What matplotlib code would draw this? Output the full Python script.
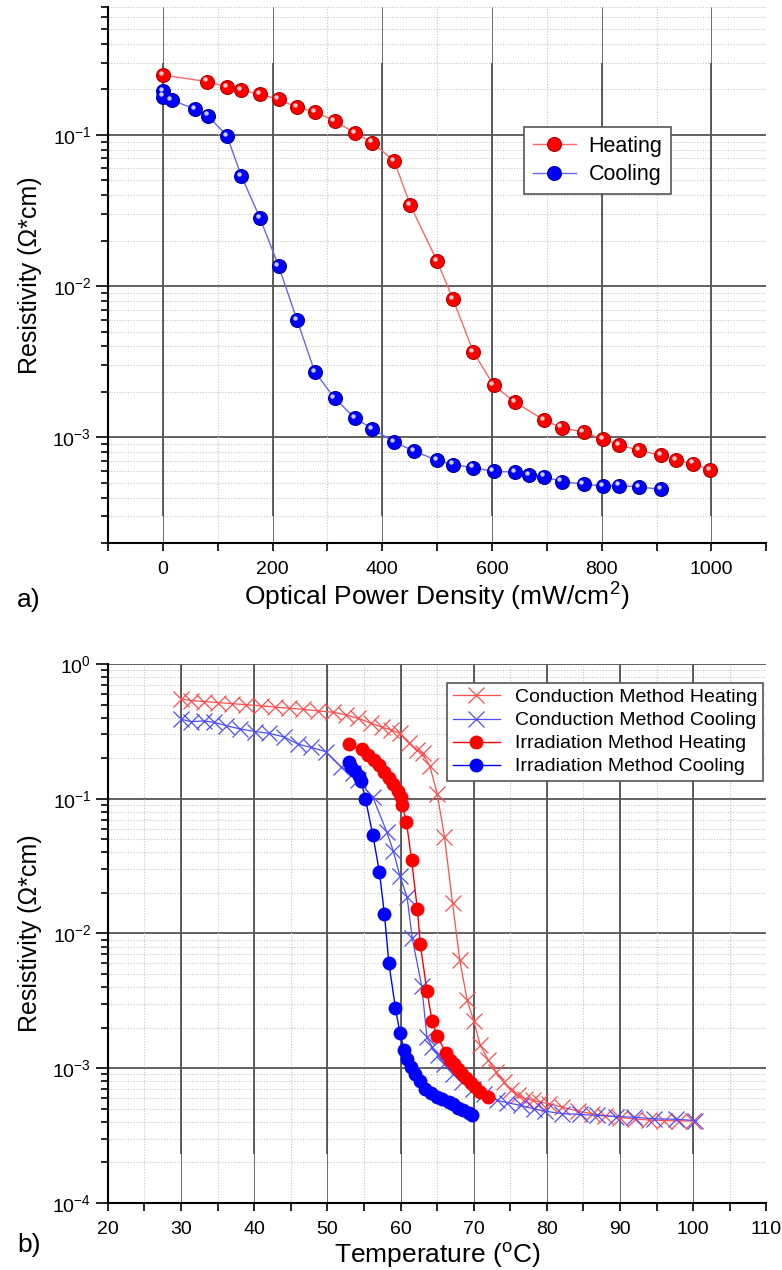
import numpy as np
import matplotlib.pyplot as plt
from matplotlib.ticker import LogLocator, FixedLocator, FuncFormatter, NullFormatter
from matplotlib.transforms import offset_copy

plt.rcParams['font.family'] = ['Liberation Sans', 'DejaVu Sans']
plt.rcParams['mathtext.fontset'] = 'custom'
plt.rcParams['mathtext.rm'] = 'Liberation Sans'
plt.rcParams['mathtext.it'] = 'Liberation Sans:italic'
plt.rcParams['mathtext.bf'] = 'Liberation Sans:bold'

# a) resistivity vs optical power density
power_heat = [0, 81, 117, 143, 177, 211, 245, 277, 313, 350, 382, 422, 451, 500,
              529, 566, 603, 642, 695, 727, 767, 803, 832, 868, 908, 936, 966, 997]
rho_heat = [0.249, 0.225, 0.208, 0.198, 0.186, 0.172, 0.152, 0.142, 0.124, 0.103,
            0.089, 0.067, 0.0344, 0.0146, 0.0082, 0.00367, 0.00221, 0.00171, 0.0013,
            0.00116, 0.00108, 0.00097, 0.00089, 0.00082, 0.00076, 0.000705, 0.00067, 0.00061]
power_cool = [0, 0, 16, 59, 82, 117, 143, 177, 211, 245, 277, 313, 350, 382, 422,
              458, 500, 529, 566, 603, 642, 667, 695, 727, 767, 803, 832, 868, 908]
rho_cool = [0.194, 0.179, 0.170, 0.148, 0.134, 0.0985, 0.0537, 0.0283, 0.0136, 0.00593,
            0.00271, 0.00182, 0.00134, 0.00114, 0.00093, 0.00081, 0.000705, 0.00066,
            0.00063, 0.000595, 0.00059, 0.00056, 0.00055, 0.00051, 0.00049, 0.000476,
            0.00048, 0.00047, 0.000453]

# b) resistivity vs temperature
cond_heat_T = [30, 31.4, 33.1, 35.0, 37.0, 38.9, 40.9, 42.8, 44.7, 46.6, 48.7, 50.8,
               52.5, 54.2, 56.0, 57.5, 58.7, 59.9, 61.2, 62.3, 63.0, 64.0, 65.0, 66.0,
               67.1, 68.1, 69.1, 70.0, 70.9, 72.0, 73.0, 74.1, 75.1, 76.1, 77.0, 78.1,
               79.1, 80.3, 82.1, 84.2, 86.1, 88.0, 90.0, 92.0, 94.0, 96.0, 98.0, 100.0]
cond_heat_rho = [0.55, 0.535, 0.526, 0.517, 0.508, 0.498, 0.489, 0.478, 0.47, 0.461,
                 0.448, 0.438, 0.419, 0.395, 0.363, 0.339, 0.324, 0.306, 0.257, 0.229,
                 0.217, 0.175, 0.109, 0.0524, 0.0169, 0.0063, 0.00321, 0.00225, 0.00148,
                 0.00115, 0.00094, 0.00079, 0.000685, 0.00063, 0.000594, 0.000577,
                 0.00056, 0.000545, 0.000514, 0.00048, 0.00046, 0.000445, 0.00043,
                 0.00042, 0.000412, 0.000409, 0.000407, 0.000405]
cond_cool_T = [30, 31.4, 33.1, 34.5, 36.2, 38.1, 40.1, 42.0, 44.0, 46.0, 47.8, 49.8,
               51.9, 53.5, 54.2, 56.2, 58.1, 59.0, 59.9, 60.9, 61.6, 62.9, 63.6, 64.3,
               65.1, 66.0, 67.1, 68.4, 69.9, 71.4, 73.2, 74.6, 76.4, 78.2, 79.7, 82.1,
               84.5, 86.9, 89.5, 91.9, 94.6, 97.6, 100.3]
cond_cool_rho = [0.389, 0.373, 0.378, 0.369, 0.348, 0.329, 0.315, 0.306, 0.288, 0.254,
                 0.24, 0.223, 0.172, 0.154, 0.137, 0.103, 0.057, 0.041, 0.0268, 0.0185,
                 0.0092, 0.00405, 0.00171, 0.00144, 0.00125, 0.00108, 0.00091, 0.00079,
                 0.000705, 0.000647, 0.000577, 0.000554, 0.00053, 0.0005, 0.00048,
                 0.00046, 0.000454, 0.000446, 0.000438, 0.000433, 0.000421, 0.000418,
                 0.000409]
irr_heat_T = [52.9, 54.7, 55.6, 56.4, 57.1, 57.8, 58.4, 59.0, 59.6, 60.0, 60.2, 60.8,
              61.5, 62.3, 62.7, 63.6, 64.3, 65.0, 66.2, 66.8, 67.3, 67.9, 68.4, 69.0,
              69.6, 70.2, 70.9, 71.9]
irr_heat_rho = [0.253, 0.232, 0.21, 0.193, 0.177, 0.158, 0.143, 0.129, 0.1135, 0.103,
                0.0902, 0.0677, 0.0352, 0.0151, 0.00828, 0.00377, 0.00225, 0.00173,
                0.0013, 0.00116, 0.00108, 0.00098, 0.00091, 0.00085, 0.00078, 0.000726,
                0.000666, 0.00061]
irr_cool_T = [52.9, 53.2, 53.8, 54.3, 54.6, 55.2, 56.2, 57.1, 57.8, 58.4, 59.3, 59.9,
              60.5, 60.9, 61.4, 62.0, 62.6, 63.3, 64.1, 65.0, 65.7, 66.6, 67.2, 67.9,
              68.5, 69.3, 69.7]
irr_cool_rho = [0.186, 0.172, 0.16, 0.148, 0.135, 0.1, 0.054, 0.0288, 0.0139, 0.00604,
                0.00279, 0.00184, 0.00136, 0.00118, 0.00102, 0.00091, 0.0008, 0.000705,
                0.000654, 0.00061, 0.000594, 0.00056, 0.000545, 0.000508, 0.000486,
                0.000465, 0.000446]

GRID_DARK = '#555555'
GRID_DOT = '#c4c4c4'

fig = plt.figure(figsize=(7.82, 12.7), dpi=100)
ax1 = fig.add_axes([0.138, 0.5724, 0.842, 0.422])
ax2 = fig.add_axes([0.138, 0.0528, 0.842, 0.4244])

dec_fmt = FuncFormatter(lambda v, p: r'$10^{%d}$' % round(np.log10(v)))


def frame(ax, xlim, ylim, majors, minors, dark_lo, dark_hi):
    ax.set_yscale('log')
    ax.set_xlim(xlim)
    ax.set_ylim(ylim)
    ax.xaxis.set_major_locator(FixedLocator(majors))
    ax.xaxis.set_minor_locator(FixedLocator(minors))
    ax.yaxis.set_major_locator(LogLocator(base=10, numticks=10))
    ax.yaxis.set_minor_locator(LogLocator(base=10, subs=np.arange(2, 10), numticks=10))
    ax.yaxis.set_major_formatter(dec_fmt)
    ax.yaxis.set_minor_formatter(NullFormatter())
    ax.grid(True, which='major', axis='y', color=GRID_DARK, lw=1.3)
    ax.grid(True, which='minor', axis='y', color=GRID_DOT, lw=0.8, ls=(0, (1, 1.5)))
    inner_min = [m for m in minors if xlim[0] < m < xlim[1]]
    inner_maj = [m for m in majors if xlim[0] < m < xlim[1]]
    ax.vlines(inner_min, ylim[0], ylim[1], color=GRID_DOT, lw=0.8, ls=(0, (1, 1.5)), zorder=0.6)
    ax.vlines(inner_maj, ylim[0], ylim[1], color=GRID_DARK, lw=0.6, zorder=0.7)
    ax.vlines(inner_maj, dark_lo, dark_hi, color=GRID_DARK, lw=1.3, zorder=0.8)
    ax.set_axisbelow(True)
    for s in ['top', 'right']:
        ax.spines[s].set_visible(False)
    for s in ['left', 'bottom']:
        ax.spines[s].set_linewidth(1.5)
    ax.tick_params(axis='x', which='both', direction='out', length=6, width=1.2,
                   pad=7, labelsize=14)
    ax.tick_params(axis='y', which='major', direction='out', length=9, width=1.2,
                   pad=3, labelsize=14)
    ax.tick_params(axis='y', which='minor', direction='out', length=5, width=1.2)


frame(ax1, (-100, 1100), (2e-4, 0.7), list(range(0, 1001, 200)),
      list(range(-100, 1101, 200)), 3e-4, 0.3)
frame(ax2, (20, 110), (1e-4, 1.0), list(range(20, 111, 10)),
      list(range(25, 106, 10)), 2.3e-4, 1.0)

# panel a: shaded balls
ax1.plot(power_heat, rho_heat, '-o', color='#ff6666', lw=1, ms=10, mfc='#ff0000',
         mec='#b00000', mew=0.8, zorder=3, label='Heating')
ax1.plot(power_cool, rho_cool, '-o', color='#6666ff', lw=1, ms=10, mfc='#0000ff',
         mec='#0000a0', mew=0.8, zorder=3, label='Cooling')
shine = offset_copy(ax1.transData, fig=fig, x=-2.2, y=2.2, units='dots')
ax1.plot(power_heat, rho_heat, 'o', ms=3.2, mfc='white', mec='none', alpha=0.8,
         transform=shine, zorder=4)
ax1.plot(power_cool, rho_cool, 'o', ms=3.2, mfc='white', mec='none', alpha=0.8,
         transform=shine, zorder=4)

leg1 = ax1.legend(loc='upper left', bbox_to_anchor=(0.632, 0.776), borderaxespad=0,
                  fontsize=15.5, fancybox=False, edgecolor='#555555', framealpha=1,
                  handlelength=2.0, handletextpad=0.6, borderpad=0.4,
                  labelspacing=0.35)
leg1.get_frame().set_linewidth(1.2)

# panel b
ax2.plot(cond_heat_T, cond_heat_rho, '-x', color='#ff4d4d', lw=0.9, ms=11, mew=0.9,
         zorder=3, label='Conduction Method Heating')
ax2.plot(cond_cool_T, cond_cool_rho, '-x', color='#4d4dff', lw=0.9, ms=11, mew=0.9,
         zorder=3, label='Conduction Method Cooling')
ax2.plot(irr_heat_T, irr_heat_rho, '-o', color='#ff0000', lw=1, ms=10, mec='none',
         zorder=4, label='Irradiation Method Heating')
ax2.plot(irr_cool_T, irr_cool_rho, '-o', color='#0000ff', lw=1, ms=10, mec='none',
         zorder=4, label='Irradiation Method Cooling')

leg2 = ax2.legend(loc='upper left', bbox_to_anchor=(0.515, 0.965), borderaxespad=0,
                  fontsize=14, fancybox=False, edgecolor='#555555', framealpha=1,
                  handlelength=2.4, borderpad=0.3, labelspacing=0.28)
leg2.get_frame().set_linewidth(1.2)

ax1.set_xlabel('Optical Power Density (mW/cm$^2$)', fontsize=19, labelpad=2)
ax2.set_xlabel('Temperature ($^{\\mathrm{o}}$C)', fontsize=19, labelpad=2)
for ax in (ax1, ax2):
    ax.set_ylabel('Resistivity (Ω*cm)', fontsize=18)
    ax.yaxis.set_label_coords(-0.1, 0.5)

fig.text(0.022, 1 - 600 / 1270, 'a)', fontsize=19, va='center')
fig.text(0.022, 1 - 1245 / 1270, 'b)', fontsize=19, va='center')

fig.savefig('out.png', dpi=100)
